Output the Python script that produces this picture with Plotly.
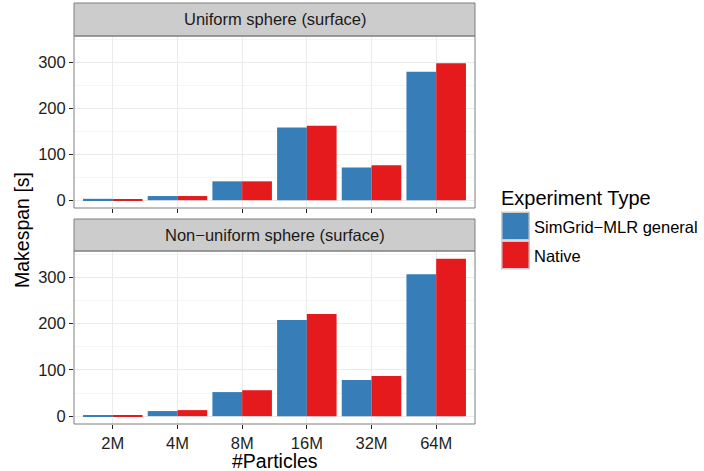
import plotly.graph_objects as go

categories = ["2M", "4M", "8M", "16M", "32M", "64M"]
panels = ["Uniform sphere (surface)", "Non\u2212uniform sphere (surface)"]
series_names = ["SimGrid\u2212MLR general", "Native"]
uniform_simgrid = [3, 9, 41, 158, 71, 279]
uniform_native = [2, 9, 41, 162, 76, 298]
nonuniform_simgrid = [2.5, 11, 52, 208, 78, 307]
nonuniform_native = [2.5, 13, 56, 221, 87, 340]
y_ticks = [0, 100, 200, 300]

colors = ["#377EB8", "#E41A1C"]
W, H = 704, 471
FONT = "Liberation Sans, Arial, Helvetica, sans-serif"

def px_x(p):
    return p / W

def px_y(p):
    return 1 - p / H

x0, x1 = px_x(74), px_x(475)
top_plot = (px_y(208), px_y(36))
top_strip = (px_y(36), px_y(3))
bot_plot = (px_y(424), px_y(251))
bot_strip = (px_y(251), px_y(219))

fig = go.Figure()
data = [(uniform_simgrid, uniform_native), (nonuniform_simgrid, nonuniform_native)]
axes = [("x", "y"), ("x2", "y2")]
for (s1, s2), (xa, ya) in zip(data, axes):
    for vals, name, col in zip((s1, s2), series_names, colors):
        fig.add_trace(go.Bar(x=categories, y=vals, name=name, marker=dict(color=col, line=dict(width=0)),
                             xaxis=xa, yaxis=ya, showlegend=False))

ymax = max(max(v) for pair in data for v in pair)
yr = [-0.05 * ymax, ymax * 1.05]

tickfont = dict(family=FONT, size=16.5, color="#1E1E1E")
common_x = dict(type="category", categoryorder="array", categoryarray=categories,
                range=[-0.6, 5.6], showgrid=True, gridcolor="#EBEBEB", gridwidth=1,
                ticks="outside", ticklen=4, tickcolor="#222222", tickwidth=1.2,
                zeroline=False, showline=False, fixedrange=True)
common_y = dict(range=yr, tickvals=y_ticks, showgrid=True, gridcolor="#EBEBEB", gridwidth=1,
                minor=dict(dtick=50, tick0=0, showgrid=True, gridcolor="#F5F5F5", gridwidth=0.6, ticks=""),
                ticks="outside", ticklen=4, tickcolor="#222222", tickwidth=1.2,
                zeroline=False, showline=False, tickfont=tickfont)

fig.update_layout(
    xaxis=dict(common_x, domain=[x0, x1], anchor="y", showticklabels=False, matches="x2"),
    xaxis2=dict(common_x, domain=[x0, x1], anchor="y2", tickfont=tickfont),
    yaxis=dict(common_y, domain=list(top_plot), anchor="x"),
    yaxis2=dict(common_y, domain=list(bot_plot), anchor="x2"),
    barmode="group", bargap=0.08, bargroupgap=0,
    width=W, height=H, margin=dict(l=0, r=0, t=0, b=0),
    plot_bgcolor="white", paper_bgcolor="white",
    font=dict(family=FONT),
)

shapes = []
annotations = []
for (py0, py1), (sy0, sy1), title in zip([top_plot, bot_plot], [top_strip, bot_strip], panels):
    shapes.append(dict(type="rect", xref="paper", yref="paper", x0=x0, x1=x1, y0=sy0, y1=sy1,
                       fillcolor="#CCCCCC", line=dict(color="#7F7F7F", width=1), layer="above"))
    shapes.append(dict(type="rect", xref="paper", yref="paper", x0=x0, x1=x1, y0=py0, y1=py1,
                       fillcolor="rgba(0,0,0,0)", line=dict(color="#7F7F7F", width=1), layer="above"))
    annotations.append(dict(text=title, xref="paper", yref="paper", x=(x0 + x1) / 2, y=(sy0 + sy1) / 2,
                            xanchor="center", yanchor="middle",
                            showarrow=False, font=dict(size=16.5, color="#1A1A1A")))

annotations.append(dict(text="Makespan [s]", xref="paper", yref="paper", x=px_x(22), y=px_y(230),
                        xanchor="center", yanchor="middle",
                        textangle=-90, showarrow=False, font=dict(size=19.5, color="black")))
annotations.append(dict(text="#Particles", xref="paper", yref="paper", x=(x0 + x1) / 2, y=px_y(461),
                        xanchor="center", yanchor="middle",
                        showarrow=False, font=dict(size=19.5, color="black")))

# legend
annotations.append(dict(text="Experiment Type", xref="paper", yref="paper", x=px_x(499), y=px_y(198),
                        xanchor="left", yanchor="middle", showarrow=False, font=dict(size=20, color="black")))
key_tops = [211.5, 240.5]
for kt, name, col in zip(key_tops, series_names, colors):
    shapes.append(dict(type="rect", xref="paper", yref="paper", x0=px_x(501), x1=px_x(530),
                       y0=px_y(kt + 29), y1=px_y(kt), fillcolor="#CCCCCC", line=dict(width=0)))
    shapes.append(dict(type="rect", xref="paper", yref="paper", x0=px_x(502.5), x1=px_x(528.5),
                       y0=px_y(kt + 27.5), y1=px_y(kt + 1.5), fillcolor=col, line=dict(width=0)))
    annotations.append(dict(text=name, xref="paper", yref="paper", x=px_x(532), y=px_y(kt + 15),
                            xanchor="left", yanchor="middle", showarrow=False,
                            font=dict(size=16.5, color="black")))

fig.update_layout(shapes=shapes, annotations=annotations)
fig.write_html("out.html", config={"displayModeBar": False},
               post_script="document.body.style.margin='0';document.body.style.overflow='hidden';")
